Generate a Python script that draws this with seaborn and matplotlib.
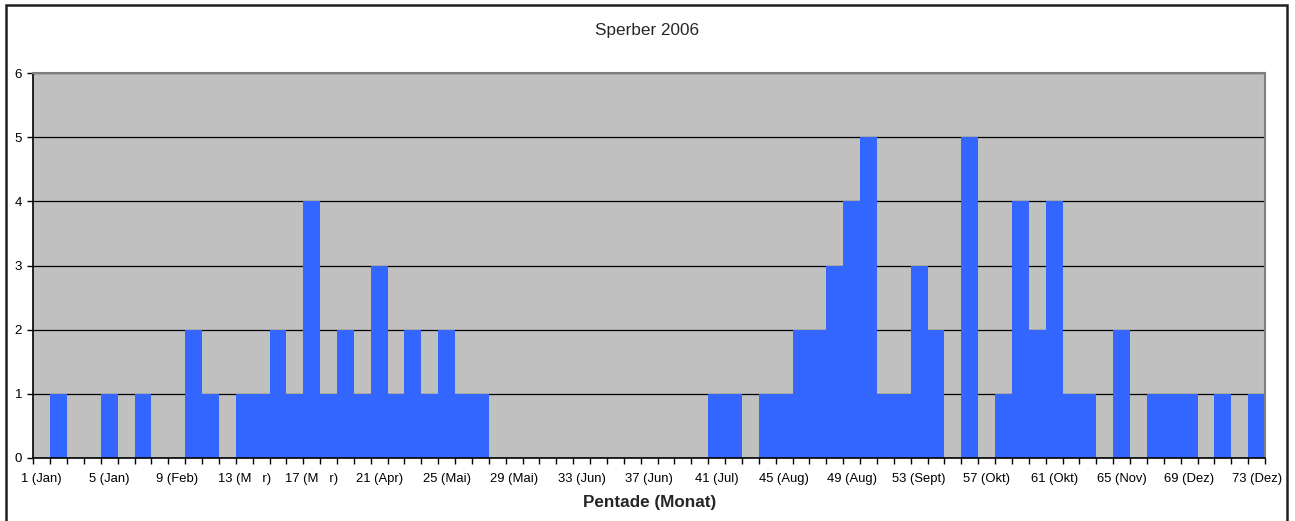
import matplotlib
matplotlib.use('Agg')
import matplotlib.pyplot as plt
import seaborn as sns
import pandas as pd
from matplotlib.patches import Rectangle
from matplotlib.ticker import FixedLocator

# Sperber sightings per pentade (1..73)
pentade = list(range(1, 74))
counts = [0, 1, 0, 0, 1, 0, 1, 0, 0, 2,
          1, 0, 1, 1, 2, 1, 4, 1, 2, 1,
          3, 1, 2, 1, 2, 1, 1, 0, 0, 0,
          0, 0, 0, 0, 0, 0, 0, 0, 0, 0,
          1, 1, 0, 1, 1, 2, 2, 3, 4, 5,
          1, 1, 3, 2, 0, 5, 0, 1, 4, 2,
          4, 1, 1, 0, 2, 0, 1, 1, 1, 0,
          1, 0, 1]
tick_labels = ['1 (Jan)', '5 (Jan)', '9 (Feb)', '13 (M   r)', '17 (M   r)',
               '21 (Apr)', '25 (Mai)', '29 (Mai)', '33 (Jun)', '37 (Jun)',
               '41 (Jul)', '45 (Aug)', '49 (Aug)', '53 (Sept)', '57 (Okt)',
               '61 (Okt)', '65 (Nov)', '69 (Dez)', '73 (Dez)']

df = pd.DataFrame({'pentade': pentade, 'anzahl': counts})

sns.set_style('white')
plt.rcParams['font.family'] = ['Liberation Sans', 'DejaVu Sans']

fig = plt.figure(figsize=(12.95, 5.21), dpi=100)
ax = fig.add_axes([33.3 / 1295, 1 - 458 / 521, (1265 - 33.3) / 1295, (458 - 73) / 521])

sns.barplot(data=df, x='pentade', y='anzahl', ax=ax, color='#3366FF',
            saturation=1, width=1.0, linewidth=0, errorbar=None)

ax.set_facecolor('#C0C0C0')
ax.set_xlim(-0.5, 72.5)
ax.set_ylim(0, 6)
ax.set_yticks(range(0, 7))
ax.yaxis.grid(True, color='black', linewidth=0.9)
ax.set_axisbelow(True)

ax.set_xticks(range(0, 73, 4))
ax.set_xticklabels(tick_labels)
ax.xaxis.set_minor_locator(FixedLocator([i - 0.5 for i in range(74)]))
ax.tick_params(axis='x', which='major', length=0, pad=11, labelsize=9.4, colors='black')
ax.tick_params(axis='x', which='minor', length=4, width=1, direction='out', color='black', bottom=True)
ax.tick_params(axis='y', length=4, width=1, direction='out', pad=4, labelsize=9.6, colors='black', left=True)

for s in ['left', 'bottom']:
    ax.spines[s].set_color('black')
    ax.spines[s].set_linewidth(1.2)
for s in ['top', 'right']:
    ax.spines[s].set_color('#808080')
    ax.spines[s].set_linewidth(1.5)

ax.set_xlabel('')
ax.set_ylabel('')

fig.text(0.5, 1 - 30 / 521, 'Sperber 2006', ha='center', va='center', fontsize=12.3)
fig.text(649.5 / 1295, 1 - 503 / 521, 'Pentade (Monat)', ha='center', va='center',
         fontsize=12.3, fontweight='bold')

# outer chart border (bottom edge lies outside the picture)
fig.patches.append(Rectangle((6 / 1295, -0.02), 1281 / 1295, 1.02 - 5 / 521,
                             transform=fig.transFigure, fill=False,
                             edgecolor='#202020', linewidth=1.8))

fig.savefig('out.png', dpi=100)
